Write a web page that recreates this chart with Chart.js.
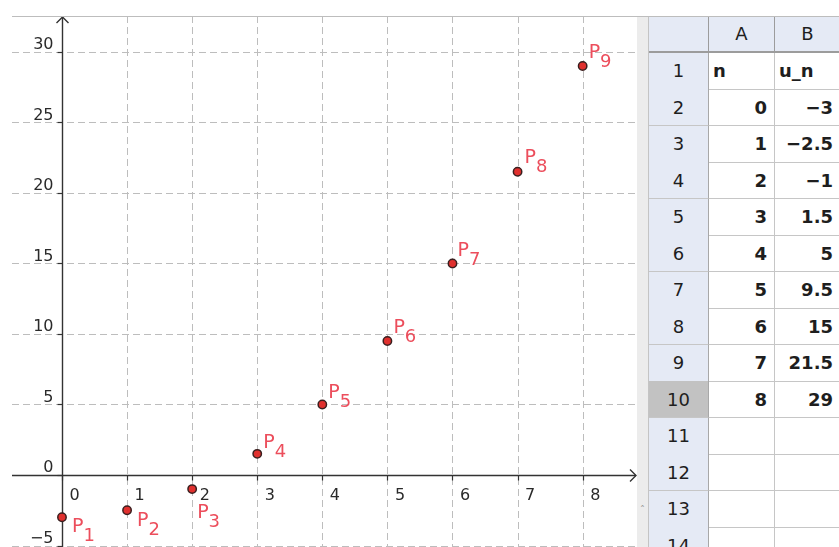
<!DOCTYPE html>
<html>
<head>
<meta charset="utf-8">
<script src="https://cdn.jsdelivr.net/npm/chart.js@4"></script>
<style>
html,body{margin:0;padding:0;background:#fff;}
body{width:839px;height:547px;overflow:hidden;position:relative;font-family:"DejaVu Sans",sans-serif;}
#plot{position:absolute;left:12px;top:16px;width:625px;height:531px;}
#topline{position:absolute;left:12px;top:16px;width:827px;height:1px;background:#bdbdbd;}
#strip{position:absolute;left:637px;top:17px;width:11px;height:530px;background:#ececec;border-right:1px solid #c4c4c4;}
#caret{position:absolute;left:640px;top:505px;font-size:10px;color:#999;}
#sheet{position:absolute;left:649px;top:0;width:190px;height:547px;}
.cell{position:absolute;box-sizing:border-box;border-right:1px solid #c6c6c6;border-bottom:1px solid #c6c6c6;font-size:18px;color:#1e1e1e;display:flex;align-items:center;white-space:nowrap;overflow:hidden;}
.hdr{background:#e5eaf5;justify-content:center;}
.colhdr{border-right:1px solid #9c9c9c;border-bottom:2px solid #9c9c9c;}
.rowhdr{border-right:1px solid #a8a8a8;}
.sel{background:#c2c2c2;}
.val{font-weight:bold;justify-content:flex-end;padding-right:7px;}
.txt{font-weight:bold;justify-content:flex-start;padding-left:4px;}
</style>
</head>
<body>
<div id="plot"><canvas id="c"></canvas></div>
<div id="strip"></div>
<div id="caret">ˆ</div>
<div id="sheet"></div>
<div id="topline"></div>
<script>
// ---- data ----
const nValues = [0, 1, 2, 3, 4, 5, 6, 7, 8];
const uValues = [-3, -2.5, -1, 1.5, 5, 9.5, 15, 21.5, 29];
const pointNames = ["1","2","3","4","5","6","7","8","9"];
const xTicks = [0, 1, 2, 3, 4, 5, 6, 7, 8];
const yTicks = [-5, 0, 5, 10, 15, 20, 25, 30];
const columnLetters = ["A", "B"];
const columnTitles = ["n", "u_n"];
const sheetRowCount = 14;
const selectedRow = 10;

// ---- style (label placement relative to each point, in px) ----
const labelPlacement = [
  [10, 15], [10, 16], [5, 29], [6, -6], [6, -6], [6, -8], [5, -7], [7, -9], [6, -8]
];

const fmt = v => (v < 0 ? "\u2212" + Math.abs(v) : String(v));

// ---- spreadsheet ----
const sheet = document.getElementById('sheet');
const colX = [649, 709, 775];
const colW = [60, 66, 66];
const rowH = 36.5, top0 = 16;
function addCell(r, c, text, cls) {
  const d = document.createElement('div');
  d.className = 'cell ' + cls;
  d.style.left = (colX[c] - 649) + 'px';
  d.style.top = (top0 + r * rowH) + 'px';
  d.style.width = colW[c] + 'px';
  d.style.height = (rowH + 0.5) + 'px';
  d.textContent = text;
  sheet.appendChild(d);
}
addCell(0, 0, '', 'hdr colhdr');
columnLetters.forEach((L, i) => addCell(0, i + 1, L, 'hdr colhdr'));
for (let r = 1; r <= sheetRowCount; r++) {
  addCell(r, 0, String(r), 'hdr rowhdr' + (r === selectedRow ? ' sel' : ''));
  if (r === 1) {
    columnTitles.forEach((t, i) => addCell(r, i + 1, t, 'txt'));
  } else if (r - 2 < nValues.length) {
    addCell(r, 1, fmt(nValues[r - 2]), 'val');
    addCell(r, 2, fmt(uValues[r - 2]), 'val');
  } else {
    addCell(r, 1, '', '');
    addCell(r, 2, '', '');
  }
}

// ---- graphics view ----
const geoPlugin = {
  id: 'geo',
  beforeDatasetsDraw(chart) {
    const { ctx, chartArea: a, scales: { x, y } } = chart;
    const x0 = Math.round(x.getPixelForValue(0)) + 0.5;
    const y0 = Math.round(y.getPixelForValue(0)) + 0.5;
    ctx.save();
    // grid
    ctx.strokeStyle = '#bdbdbd';
    ctx.lineWidth = 1;
    ctx.setLineDash([7, 4]);
    xTicks.forEach(v => {
      if (v === 0) return;
      const px = Math.round(x.getPixelForValue(v)) + 0.5;
      ctx.beginPath(); ctx.moveTo(px, a.top); ctx.lineTo(px, a.bottom); ctx.stroke();
    });
    yTicks.forEach(v => {
      if (v === 0) return;
      const py = Math.round(y.getPixelForValue(v)) + 0.5;
      ctx.beginPath(); ctx.moveTo(a.left, py); ctx.lineTo(a.right, py); ctx.stroke();
    });
    ctx.setLineDash([]);
    // axes
    ctx.strokeStyle = '#333';
    ctx.lineWidth = 1.4;
    ctx.beginPath(); ctx.moveTo(a.left, y0); ctx.lineTo(a.right - 1, y0); ctx.stroke();
    ctx.beginPath(); ctx.moveTo(x0, a.bottom); ctx.lineTo(x0, a.top + 1); ctx.stroke();
    // arrows
    ctx.beginPath();
    ctx.moveTo(a.right - 7, y0 - 6); ctx.lineTo(a.right - 1, y0); ctx.lineTo(a.right - 7, y0 + 6);
    ctx.moveTo(x0 - 6, a.top + 7); ctx.lineTo(x0, a.top + 1); ctx.lineTo(x0 + 6, a.top + 7);
    ctx.stroke();
    // ticks
    ctx.lineWidth = 1.2;
    xTicks.forEach(v => {
      const px = Math.round(x.getPixelForValue(v)) + 0.5;
      ctx.beginPath(); ctx.moveTo(px, y0); ctx.lineTo(px, y0 + 5); ctx.stroke();
    });
    yTicks.forEach(v => {
      const py = Math.round(y.getPixelForValue(v)) + 0.5;
      ctx.beginPath(); ctx.moveTo(x0 - 5, py); ctx.lineTo(x0, py); ctx.stroke();
    });
    // tick labels
    ctx.fillStyle = '#2a2a2a';
    ctx.font = '16px "DejaVu Sans"';
    ctx.textBaseline = 'alphabetic';
    ctx.textAlign = 'left';
    xTicks.forEach(v => {
      const px = x.getPixelForValue(v);
      ctx.fillText(fmt(v), px + 7.5, y0 + 24);
    });
    ctx.textAlign = 'right';
    yTicks.forEach(v => {
      const py = y.getPixelForValue(v);
      ctx.fillText(fmt(v), x0 - 9, py - 2.5);
    });
    ctx.restore();
  },
  afterDatasetsDraw(chart) {
    const { ctx } = chart;
    const meta = chart.getDatasetMeta(0);
    ctx.save();
    ctx.fillStyle = 'rgb(236,78,92)';
    ctx.textBaseline = 'alphabetic';
    ctx.textAlign = 'left';
    meta.data.forEach((pt, i) => {
      const [dx, dy] = labelPlacement[i];
      const lx = pt.x + dx, ly = pt.y + dy;
      ctx.font = '19px "DejaVu Sans"';
      ctx.fillText('P', lx, ly);
      const w = ctx.measureText('P').width;
      ctx.font = '18px "DejaVu Sans"';
      ctx.fillText(pointNames[i], lx + w, ly + 9);
    });
    ctx.restore();
  }
};

new Chart(document.getElementById('c'), {
  type: 'scatter',
  data: {
    datasets: [{
      data: nValues.map((n, i) => ({ x: n, y: uValues[i] })),
      pointRadius: 4.2,
      pointHoverRadius: 4.2,
      backgroundColor: '#e0302e',
      borderColor: '#3a1f1f',
      borderWidth: 1.5,
      showLine: false,
      clip: false
    }]
  },
  options: {
    responsive: true,
    maintainAspectRatio: false,
    animation: false,
    events: [],
    layout: { padding: 0, autoPadding: false },
    scales: {
      x: { type: 'linear', min: -0.768, max: 8.835, display: false },
      y: { type: 'linear', min: -5.106, max: 32.55, display: false }
    },
    plugins: { legend: { display: false }, tooltip: { enabled: false } }
  },
  plugins: [geoPlugin]
});
</script>
</body>
</html>
